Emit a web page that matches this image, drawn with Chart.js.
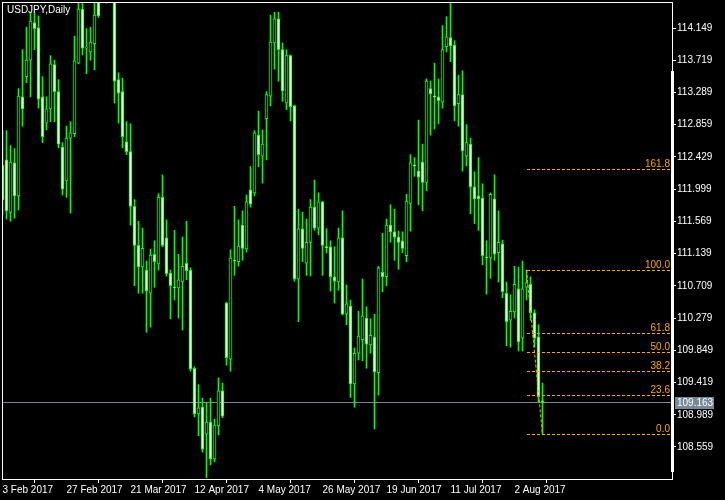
<!DOCTYPE html>
<html>
<head>
<meta charset="utf-8">
<script src="https://cdn.jsdelivr.net/npm/chart.js@4.4.1/dist/chart.umd.min.js"></script>
<style>
  html, body { margin: 0; padding: 0; background: #000; }
</style>
</head>
<body>
<canvas id="chart" width="725" height="500"></canvas>
<script>
const symbolTitle = "USDJPY,Daily";

// daily candles, 3 Feb 2017 .. 11 Aug 2017
const openPrices = [
  112.32, 112.39, 111.69, 112.35, 111.91, 113.23, 113.50, 113.72, 114.22, 114.15,
  113.23, 112.88, 113.07, 113.66, 113.30, 112.56, 112.11, 112.68, 112.74, 113.68,
  114.40, 113.88, 113.83, 113.94, 114.70, 114.85, 115.00, 114.75, 114.90, 113.46,
  113.30, 112.63, 112.50, 111.77, 111.25, 110.96, 110.92, 110.61, 111.13, 111.00,
  111.89, 111.35, 110.88, 110.69, 110.68, 110.76, 111.01, 110.92, 109.61, 109.00,
  109.09, 108.73, 108.89, 108.40, 108.84, 109.31, 110.48, 109.73, 111.05, 111.03,
  111.52, 111.20, 111.99, 111.95, 112.72, 112.44, 112.94, 113.24, 113.95, 114.27,
  113.86, 113.15, 113.78, 113.11, 110.80, 111.47, 111.01, 111.29, 111.76, 111.48,
  111.83, 111.23, 111.23, 110.83, 110.76, 111.35, 110.33, 110.44, 109.40, 109.81,
  109.99, 110.28, 109.92, 110.03, 109.55, 110.89, 110.83, 111.52, 111.43, 111.36,
  111.31, 111.11, 111.81, 112.32, 112.24, 112.36, 112.09, 113.34, 113.24, 113.23,
  113.16, 113.90, 114.02, 113.92, 113.14, 113.26, 112.44, 112.60, 112.03, 111.91,
  111.88, 111.09, 111.08, 111.87, 111.15, 111.27, 110.61, 110.25, 110.36, 110.67,
  110.01, 110.69, 110.73, 110.35, 110.03, 109.17
];
const highPrices = [
  112.78, 112.78, 112.58, 112.54, 113.34, 113.86, 114.16, 114.36, 114.35, 114.31,
  113.50, 113.23, 113.78, 113.72, 113.46, 112.62, 112.84, 112.90, 114.04, 114.66,
  114.59, 114.14, 114.16, 114.63, 114.85, 115.45, 115.30, 115.10, 115.00, 113.55,
  113.48, 112.90, 112.87, 111.86, 111.57, 111.48, 111.04, 111.20, 111.31, 111.94,
  112.19, 111.59, 110.92, 111.45, 111.13, 111.36, 111.57, 110.95, 109.63, 109.39,
  109.21, 109.15, 109.21, 108.93, 109.48, 109.41, 110.49, 111.19, 111.77, 111.59,
  111.71, 111.92, 112.30, 112.78, 113.04, 112.79, 113.30, 114.32, 114.36, 114.36,
  113.95, 113.86, 113.79, 113.12, 111.73, 111.69, 111.60, 111.86, 112.12, 111.95,
  111.84, 111.47, 111.31, 111.23, 111.48, 111.71, 110.72, 110.52, 109.88, 110.37,
  110.80, 110.43, 110.27, 110.33, 110.97, 111.41, 111.60, 111.79, 111.73, 111.44,
  111.43, 111.93, 112.46, 112.42, 112.92, 112.60, 113.47, 113.44, 113.68, 113.47,
  114.18, 114.30, 114.48, 113.98, 113.52, 113.58, 112.86, 112.68, 112.23, 112.42,
  112.07, 111.31, 111.95, 112.19, 111.71, 111.32, 110.76, 110.59, 110.97, 110.96,
  111.04, 110.92, 110.83, 110.39, 110.19, 109.41
];
const lowPrices = [
  111.65, 111.60, 111.57, 111.61, 111.72, 112.84, 113.42, 113.23, 113.86, 113.08,
  112.62, 112.79, 112.90, 112.90, 112.55, 111.92, 111.89, 111.68, 112.70, 113.67,
  113.79, 113.54, 113.72, 113.59, 114.29, 114.60, 114.48, 114.55, 113.15, 112.88,
  112.55, 112.46, 111.52, 110.71, 110.61, 110.61, 110.09, 110.16, 110.69, 110.92,
  111.23, 110.84, 110.27, 110.52, 110.28, 110.12, 110.79, 109.57, 108.96, 108.71,
  108.49, 108.15, 108.32, 108.36, 108.72, 108.95, 109.65, 109.57, 110.85, 110.97,
  111.05, 111.16, 111.76, 111.91, 112.30, 112.08, 112.39, 113.11, 113.60, 113.44,
  113.17, 113.06, 112.91, 110.77, 110.23, 111.03, 110.85, 110.84, 111.45, 111.39,
  110.85, 111.15, 110.64, 110.48, 110.65, 110.32, 110.19, 109.22, 109.09, 109.72,
  109.71, 109.61, 109.81, 108.80, 109.25, 110.63, 110.71, 111.29, 111.05, 110.93,
  111.15, 111.03, 111.44, 112.17, 111.79, 111.71, 111.98, 112.72, 112.80, 112.87,
  113.08, 113.83, 113.70, 112.91, 112.84, 112.24, 112.31, 111.67, 111.54, 111.45,
  110.99, 110.60, 110.81, 111.05, 110.76, 110.55, 109.91, 109.89, 110.28, 109.84,
  109.84, 110.52, 110.25, 109.89, 109.15, 108.73
];
const closePrices = [
  111.86, 111.71, 112.36, 111.91, 113.24, 113.07, 113.72, 114.24, 114.14, 113.20,
  112.70, 113.07, 113.67, 113.30, 112.60, 112.00, 112.68, 112.75, 113.71, 114.40,
  113.88, 113.89, 113.96, 114.32, 114.31, 115.05, 114.75, 114.90, 113.44, 113.28,
  112.70, 112.50, 111.77, 111.25, 110.96, 111.21, 110.64, 111.12, 111.03, 111.89,
  111.25, 110.87, 110.71, 110.68, 110.79, 110.97, 110.91, 109.60, 109.00, 109.08,
  108.53, 108.89, 108.40, 108.85, 109.31, 108.97, 109.75, 111.08, 111.04, 111.24,
  111.21, 111.83, 111.80, 112.75, 112.46, 112.60, 113.26, 113.96, 114.27, 113.86,
  113.31, 113.78, 113.10, 110.80, 111.47, 111.21, 111.29, 111.76, 111.48, 111.83,
  111.25, 111.22, 110.83, 110.77, 111.35, 110.33, 110.47, 109.40, 109.81, 110.04,
  110.31, 109.93, 110.05, 109.56, 110.95, 110.83, 111.52, 111.43, 111.36, 111.29,
  111.21, 111.84, 112.35, 112.31, 112.16, 112.09, 113.44, 113.27, 113.23, 113.18,
  113.86, 114.03, 113.91, 113.11, 113.26, 112.51, 112.62, 112.03, 111.87, 111.87,
  111.11, 111.08, 111.93, 111.13, 111.29, 110.63, 110.23, 110.37, 110.73, 109.96,
  110.67, 110.75, 110.35, 110.01, 109.23, 109.163
];

const dateTickBars = [0, 16, 32, 48, 64, 80, 96, 112, 128];
const dateTickLabels = ["3 Feb 2017", "27 Feb 2017", "21 Mar 2017", "12 Apr 2017", "4 May 2017",
  "26 May 2017", "19 Jun 2017", "11 Jul 2017", "2 Aug 2017"];
const priceTicks = [108.559, 108.989, 109.419, 109.849, 110.279, 110.709, 111.139,
  111.569, 111.999, 112.429, 112.859, 113.289, 113.719, 114.149];

const fibLevels = [0, 23.6, 38.2, 50, 61.8, 100, 161.8];
const fibHigh = 110.92, fibHighBar = 131;
const fibLow = 108.73, fibLowBar = 135;
const lastPrice = 109.163;

const candleGreen = "#00ff00";
const fibOrange = "#ffa500";
const priceGray = "#778899";

Chart.defaults.font.family = "'Liberation Sans', Arial, sans-serif";
Chart.defaults.font.size = 10;
Chart.defaults.color = "#ffffff";

const wickData = openPrices.map((o, i) => ({ x: i, y: [lowPrices[i], highPrices[i]] }));
const bodyData = openPrices.map((o, i) => ({ x: i, y: [o, closePrices[i]] }));
const bodyFill = openPrices.map((o, i) => closePrices[i] < o ? "#ffffff" : "#000000");

const mtOverlay = {
  id: "mtOverlay",
  beforeDraw(chart) {
    const { ctx } = chart;
    ctx.save();
    ctx.fillStyle = "#000";
    ctx.fillRect(0, 0, chart.width, chart.height);
    ctx.restore();
  },
  beforeDatasetsDraw(chart) {
    const { ctx, chartArea: a, scales: { y } } = chart;
    const py = Math.round(y.getPixelForValue(lastPrice)) + 0.5;
    ctx.save();
    ctx.strokeStyle = priceGray;
    ctx.lineWidth = 1;
    ctx.beginPath();
    ctx.moveTo(a.left, py);
    ctx.lineTo(a.right, py);
    ctx.stroke();
    ctx.restore();
  },
  afterDatasetsDraw(chart) {
    const { ctx, chartArea: a, scales: { x, y } } = chart;
    const x0 = x.getPixelForValue(fibHighBar);
    ctx.save();
    ctx.strokeStyle = fibOrange;
    ctx.fillStyle = fibOrange;
    ctx.lineWidth = 1;
    ctx.setLineDash([3, 2]);
    ctx.font = "10px 'Liberation Sans', Arial, sans-serif";
    ctx.textAlign = "right";
    ctx.textBaseline = "alphabetic";
    fibLevels.forEach((lv) => {
      const price = fibLow + (fibHigh - fibLow) * lv / 100;
      const py = Math.round(y.getPixelForValue(price)) + 0.5;
      ctx.beginPath();
      ctx.moveTo(Math.round(x0), py);
      ctx.lineTo(a.right, py);
      ctx.stroke();
      ctx.fillText(lv.toFixed(1), a.right - 2, py - 3);
    });
    ctx.beginPath();
    ctx.moveTo(x0, y.getPixelForValue(fibHigh));
    ctx.lineTo(x.getPixelForValue(fibLowBar), y.getPixelForValue(fibLow));
    ctx.stroke();
    ctx.restore();
  },
  afterDraw(chart) {
    const { ctx, chartArea: a, scales: { y } } = chart;
    ctx.save();
    ctx.strokeStyle = "#ffffff";
    ctx.lineWidth = 1;
    ctx.strokeRect(a.left + 0.5, a.top + 0.5, a.right - a.left, a.bottom - a.top);
    ctx.fillStyle = "#ffffff";
    ctx.fillRect(a.right - 1, 71, 3, 401);

    ctx.font = "10px 'Liberation Sans', Arial, sans-serif";
    ctx.textBaseline = "top";
    ctx.textAlign = "left";
    ctx.fillText(symbolTitle, a.left + 5, a.top + 3);

    const py = Math.round(y.getPixelForValue(lastPrice));
    ctx.fillStyle = priceGray;
    ctx.fillRect(a.right + 3, py - 5, 39, 12);
    ctx.fillStyle = "#ffffff";
    ctx.textBaseline = "middle";
    ctx.fillText(lastPrice.toFixed(3), a.right + 5, py + 1);
    ctx.restore();
  }
};

new Chart(document.getElementById("chart"), {
  type: "bar",
  data: {
    datasets: [
      {
        data: bodyData,
        backgroundColor: bodyFill,
        borderColor: candleGreen,
        borderWidth: 1,
        borderSkipped: false,
        barThickness: 3,
        minBarLength: 1,
        grouped: false,
        clip: 0,
        order: 0
      },
      {
        data: wickData,
        backgroundColor: candleGreen,
        borderWidth: 0,
        barThickness: 1,
        grouped: false,
        clip: 0,
        order: 1
      }
    ]
  },
  options: {
    responsive: false,
    animation: false,
    layout: { padding: { left: 2, top: 2, right: 0, bottom: 0 } },
    plugins: { legend: { display: false }, tooltip: { enabled: false } },
    scales: {
      x: {
        type: "linear",
        min: -0.125,
        max: 167.375,
        offset: false,
        border: { display: false },
        grid: { drawOnChartArea: false, drawTicks: true, tickLength: 4, color: "#ffffff" },
        afterBuildTicks: (s) => { s.ticks = dateTickBars.map((v) => ({ value: v })); },
        ticks: {
          autoSkip: false, maxRotation: 0, minRotation: 0, align: "start", padding: 1,
          color: "#ffffff",
          callback: (v, i) => dateTickLabels[i]
        },
        afterFit: (s) => { s.height = 21; s.paddingLeft = 0; s.paddingRight = 0; }
      },
      y: {
        position: "right",
        min: 108.132,
        max: 114.496,
        border: { display: false },
        grid: { drawOnChartArea: false, drawTicks: true, tickLength: 4, color: "#ffffff" },
        afterBuildTicks: (s) => { s.ticks = priceTicks.map((v) => ({ value: v })); },
        ticks: { padding: 1, color: "#ffffff", callback: (v) => v.toFixed(3) },
        afterFit: (s) => { s.width = 53; s.paddingTop = 0; s.paddingBottom = 0; }
      }
    }
  },
  plugins: [mtOverlay]
});
</script>
</body>
</html>
